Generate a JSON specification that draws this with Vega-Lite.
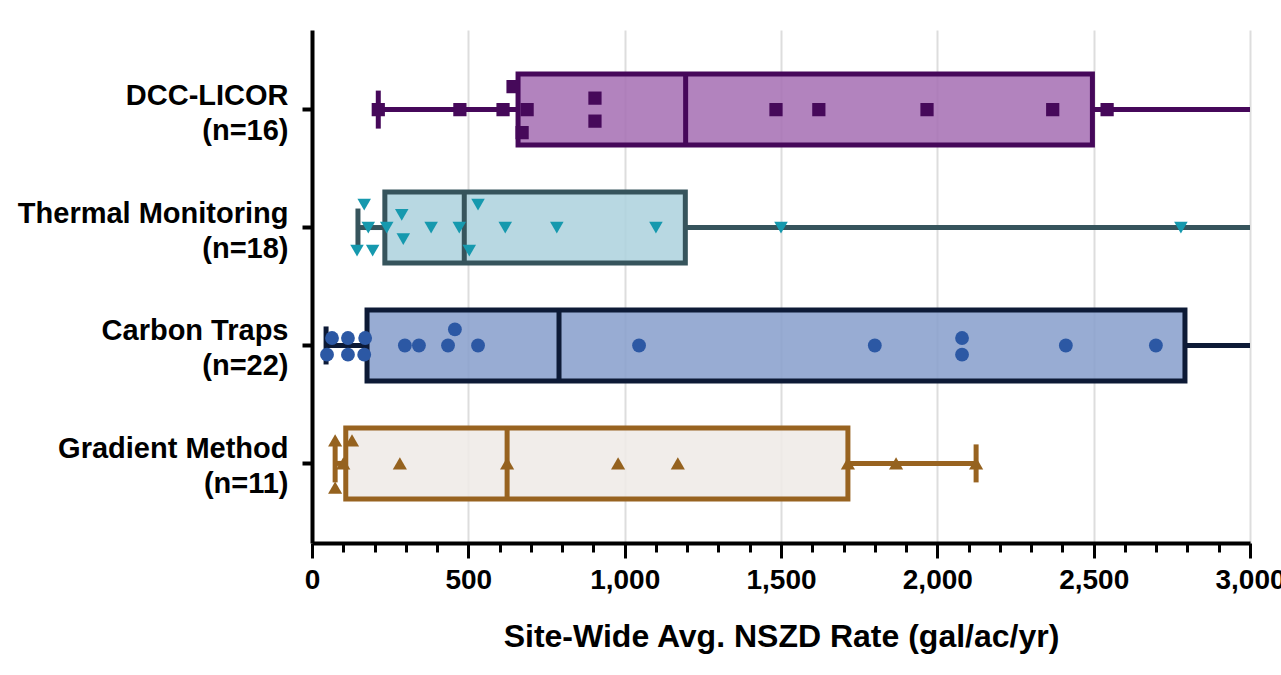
{
  "$schema": "https://vega.github.io/schema/vega-lite/v6.json",
  "width": 938,
  "height": 513,
  "autosize": {"type": "none"},
  "padding": {"left": 312, "top": 30, "right": 31, "bottom": 132},
  "background": "white",
  "config": {
    "view": {"stroke": null},
    "font": "Liberation Sans"
  },
  "datasets": {
    "boxes": [
      {"group": "DCC-LICOR\u00a0|(n=16)", "min": 212, "q1": 659, "median": 1195, "q3": 2496, "max": 3000, "capMax": false},
      {"group": "Thermal Monitoring|(n=18)", "min": 147, "q1": 233, "median": 487, "q3": 1194, "max": 3000, "capMax": false},
      {"group": "Carbon Traps|(n=22)", "min": 45, "q1": 176, "median": 790, "q3": 2792, "max": 3000, "capMax": false},
      {"group": "Gradient Method|(n=11)", "min": 74, "q1": 108, "median": 624, "q3": 1714, "max": 2124, "capMax": true}
    ],
    "points": [
      {"group": "DCC-LICOR\u00a0|(n=16)", "value": 212, "lane": 0},
      {"group": "DCC-LICOR\u00a0|(n=16)", "value": 473, "lane": 0},
      {"group": "DCC-LICOR\u00a0|(n=16)", "value": 611, "lane": 0},
      {"group": "DCC-LICOR\u00a0|(n=16)", "value": 643, "lane": -2},
      {"group": "DCC-LICOR\u00a0|(n=16)", "value": 672, "lane": 2},
      {"group": "DCC-LICOR\u00a0|(n=16)", "value": 688, "lane": 0},
      {"group": "DCC-LICOR\u00a0|(n=16)", "value": 905, "lane": -1},
      {"group": "DCC-LICOR\u00a0|(n=16)", "value": 905, "lane": 1},
      {"group": "DCC-LICOR\u00a0|(n=16)", "value": 1484, "lane": 0},
      {"group": "DCC-LICOR\u00a0|(n=16)", "value": 1621, "lane": 0},
      {"group": "DCC-LICOR\u00a0|(n=16)", "value": 1967, "lane": 0},
      {"group": "DCC-LICOR\u00a0|(n=16)", "value": 2369, "lane": 0},
      {"group": "DCC-LICOR\u00a0|(n=16)", "value": 2543, "lane": 0},
      {"group": "Thermal Monitoring|(n=18)", "value": 167, "lane": -2},
      {"group": "Thermal Monitoring|(n=18)", "value": 180, "lane": 0},
      {"group": "Thermal Monitoring|(n=18)", "value": 239, "lane": 0},
      {"group": "Thermal Monitoring|(n=18)", "value": 287, "lane": -1.1},
      {"group": "Thermal Monitoring|(n=18)", "value": 292, "lane": 1},
      {"group": "Thermal Monitoring|(n=18)", "value": 381, "lane": 0},
      {"group": "Thermal Monitoring|(n=18)", "value": 471, "lane": 0},
      {"group": "Thermal Monitoring|(n=18)", "value": 531, "lane": -2},
      {"group": "Thermal Monitoring|(n=18)", "value": 503, "lane": 2},
      {"group": "Thermal Monitoring|(n=18)", "value": 618, "lane": 0},
      {"group": "Thermal Monitoring|(n=18)", "value": 783, "lane": 0},
      {"group": "Thermal Monitoring|(n=18)", "value": 1100, "lane": 0},
      {"group": "Thermal Monitoring|(n=18)", "value": 144, "lane": 2},
      {"group": "Thermal Monitoring|(n=18)", "value": 194, "lane": 2},
      {"group": "Thermal Monitoring|(n=18)", "value": 1500, "lane": 0},
      {"group": "Thermal Monitoring|(n=18)", "value": 2779, "lane": 0},
      {"group": "Carbon Traps|(n=22)", "value": 64, "lane": -0.65},
      {"group": "Carbon Traps|(n=22)", "value": 48, "lane": 0.8},
      {"group": "Carbon Traps|(n=22)", "value": 115, "lane": -0.65},
      {"group": "Carbon Traps|(n=22)", "value": 115, "lane": 0.8},
      {"group": "Carbon Traps|(n=22)", "value": 170, "lane": -0.65},
      {"group": "Carbon Traps|(n=22)", "value": 167, "lane": 0.8},
      {"group": "Carbon Traps|(n=22)", "value": 297, "lane": 0},
      {"group": "Carbon Traps|(n=22)", "value": 342, "lane": 0},
      {"group": "Carbon Traps|(n=22)", "value": 435, "lane": 0},
      {"group": "Carbon Traps|(n=22)", "value": 457, "lane": -1.4},
      {"group": "Carbon Traps|(n=22)", "value": 531, "lane": 0},
      {"group": "Carbon Traps|(n=22)", "value": 1046, "lane": 0},
      {"group": "Carbon Traps|(n=22)", "value": 1800, "lane": 0},
      {"group": "Carbon Traps|(n=22)", "value": 2079, "lane": -0.65},
      {"group": "Carbon Traps|(n=22)", "value": 2079, "lane": 0.8},
      {"group": "Carbon Traps|(n=22)", "value": 2411, "lane": 0},
      {"group": "Carbon Traps|(n=22)", "value": 2699, "lane": 0},
      {"group": "Gradient Method|(n=11)", "value": 74, "lane": -2},
      {"group": "Gradient Method|(n=11)", "value": 74, "lane": 2.1},
      {"group": "Gradient Method|(n=11)", "value": 128, "lane": -2},
      {"group": "Gradient Method|(n=11)", "value": 100, "lane": 0},
      {"group": "Gradient Method|(n=11)", "value": 281, "lane": 0},
      {"group": "Gradient Method|(n=11)", "value": 624, "lane": 0},
      {"group": "Gradient Method|(n=11)", "value": 979, "lane": 0},
      {"group": "Gradient Method|(n=11)", "value": 1170, "lane": 0},
      {"group": "Gradient Method|(n=11)", "value": 1714, "lane": 0},
      {"group": "Gradient Method|(n=11)", "value": 1868, "lane": 0},
      {"group": "Gradient Method|(n=11)", "value": 2124, "lane": 0}
    ]
  },
  "encoding": {
    "y": {
      "field": "group",
      "type": "nominal",
      "sort": null,
      "scale": {
        "type": "band",
        "domain": ["DCC-LICOR\u00a0|(n=16)", "Thermal Monitoring|(n=18)", "Carbon Traps|(n=22)", "Gradient Method|(n=11)"],
        "paddingInner": 0.39,
        "paddingOuter": 0.37
      },
      "axis": {
        "title": null,
        "labelExpr": "split(datum.label, '|')",
        "labelFont": "Liberation Sans",
        "labelFontSize": 29,
        "labelFontWeight": "bold",
        "labelColor": "black",
        "labelLineHeight": 35,
        "labelPadding": 14,
        "labelOffset": -14,
        "labelLimit": 400,
        "domainColor": "black",
        "domainWidth": 4,
        "tickColor": "black",
        "tickWidth": 4,
        "tickSize": 10,
        "grid": false
      }
    }
  },
  "layer": [
    {
      "data": {"name": "boxes"},
      "mark": {"type": "rule", "strokeWidth": 5, "clip": true},
      "encoding": {
        "x": {
          "field": "min",
          "type": "quantitative",
          "scale": {"domain": [0, 3000], "nice": false, "zero": true},
          "axis": {
            "orient": "bottom",
            "title": "Site-Wide Avg. NSZD Rate (gal/ac/yr)",
            "titleFont": "Liberation Sans",
            "titleFontSize": 32,
            "titleFontWeight": "bold",
            "titleColor": "black",
            "titlePadding": 27,
            "tickCount": 40,
            "values": [0, 100, 200, 300, 400, 500, 600, 700, 800, 900, 1000, 1100, 1200, 1300, 1400, 1500, 1600, 1700, 1800, 1900, 2000, 2100, 2200, 2300, 2400, 2500, 2600, 2700, 2800, 2900, 3000],
            "labelExpr": "datum.value % 500 === 0 ? format(datum.value, ',d') : ''",
            "labelOverlap": false,
            "labelFlush": false,
            "labelFont": "Liberation Sans",
            "labelFontSize": 28,
            "labelFontWeight": "bold",
            "labelColor": "black",
            "labelPadding": 8,
            "domainColor": "black",
            "domainWidth": 4,
            "tickColor": "black",
            "tickWidth": 3,
            "tickSize": {"condition": {"test": "datum.value % 500 === 0", "value": 15}, "value": 9},
            "grid": true,
            "gridColor": "#dddddd",
            "gridWidth": 2,
            "gridOpacity": {"condition": {"test": "datum.value % 500 === 0 && datum.value > 0", "value": 1}, "value": 0}
          }
        },
        "x2": {"field": "q1"},
        "color": {
          "field": "group", "type": "nominal", "legend": null,
          "scale": {"domain": ["DCC-LICOR\u00a0|(n=16)", "Thermal Monitoring|(n=18)", "Carbon Traps|(n=22)", "Gradient Method|(n=11)"], "range": ["#46085a", "#36545c", "#0d1a36", "#986320"]}
        }
      }
    },
    {
      "data": {"name": "boxes"},
      "mark": {"type": "rule", "strokeWidth": 5, "clip": true},
      "encoding": {
        "x": {"field": "q3", "type": "quantitative"},
        "x2": {"field": "max"},
        "color": {
          "field": "group", "type": "nominal", "legend": null,
          "scale": {"domain": ["DCC-LICOR\u00a0|(n=16)", "Thermal Monitoring|(n=18)", "Carbon Traps|(n=22)", "Gradient Method|(n=11)"], "range": ["#46085a", "#36545c", "#0d1a36", "#986320"]}
        }
      }
    },
    {
      "data": {"name": "boxes"},
      "mark": {"type": "tick", "thickness": 5, "size": 38, "orient": "vertical", "opacity": 1},
      "encoding": {
        "x": {"field": "min", "type": "quantitative"},
        "color": {
          "field": "group", "type": "nominal", "legend": null,
          "scale": {"domain": ["DCC-LICOR\u00a0|(n=16)", "Thermal Monitoring|(n=18)", "Carbon Traps|(n=22)", "Gradient Method|(n=11)"], "range": ["#46085a", "#36545c", "#0d1a36", "#986320"]}
        }
      }
    },
    {
      "data": {"name": "boxes"},
      "transform": [{"filter": "datum.capMax"}],
      "mark": {"type": "tick", "thickness": 5, "size": 38, "orient": "vertical", "opacity": 1},
      "encoding": {
        "x": {"field": "max", "type": "quantitative"},
        "color": {
          "field": "group", "type": "nominal", "legend": null,
          "scale": {"domain": ["DCC-LICOR\u00a0|(n=16)", "Thermal Monitoring|(n=18)", "Carbon Traps|(n=22)", "Gradient Method|(n=11)"], "range": ["#46085a", "#36545c", "#0d1a36", "#986320"]}
        }
      }
    },
    {
      "data": {"name": "boxes"},
      "mark": {"type": "bar", "strokeWidth": 5, "fillOpacity": 0.88, "strokeJoin": "miter", "size": 71},
      "encoding": {
        "x": {"field": "q1", "type": "quantitative"},
        "x2": {"field": "q3"},
        "color": {
          "field": "group", "type": "nominal", "legend": null,
          "scale": {"domain": ["DCC-LICOR\u00a0|(n=16)", "Thermal Monitoring|(n=18)", "Carbon Traps|(n=22)", "Gradient Method|(n=11)"], "range": ["#a772b5", "#aed3de", "#8aa1cd", "#efebe7"]}
        },
        "stroke": {
          "field": "group", "type": "nominal", "legend": null,
          "scale": {"domain": ["DCC-LICOR\u00a0|(n=16)", "Thermal Monitoring|(n=18)", "Carbon Traps|(n=22)", "Gradient Method|(n=11)"], "range": ["#46085a", "#36545c", "#0d1a36", "#986320"]}
        }
      }
    },
    {
      "data": {"name": "boxes"},
      "mark": {"type": "tick", "thickness": 5, "size": 71, "orient": "vertical", "opacity": 1},
      "encoding": {
        "x": {"field": "median", "type": "quantitative"},
        "color": {
          "field": "group", "type": "nominal", "legend": null,
          "scale": {"domain": ["DCC-LICOR\u00a0|(n=16)", "Thermal Monitoring|(n=18)", "Carbon Traps|(n=22)", "Gradient Method|(n=11)"], "range": ["#46085a", "#36545c", "#0d1a36", "#986320"]}
        }
      }
    },
    {
      "data": {"name": "points"},
      "mark": {"type": "point", "filled": true, "opacity": 1, "clip": true},
      "encoding": {
        "x": {"field": "value", "type": "quantitative"},
        "yOffset": {"field": "lane", "type": "quantitative", "scale": {"domain": [-2, 2], "range": [13, 59]}},
        "color": {
          "field": "group", "type": "nominal", "legend": null,
          "scale": {"domain": ["DCC-LICOR\u00a0|(n=16)", "Thermal Monitoring|(n=18)", "Carbon Traps|(n=22)", "Gradient Method|(n=11)"], "range": ["#46095a", "#1699ae", "#2c58a4", "#95621f"]}
        },
        "shape": {
          "field": "group", "type": "nominal", "legend": null,
          "scale": {"domain": ["DCC-LICOR\u00a0|(n=16)", "Thermal Monitoring|(n=18)", "Carbon Traps|(n=22)", "Gradient Method|(n=11)"], "range": ["square", "triangle-down", "circle", "triangle-up"]}
        },
        "size": {
          "field": "group", "type": "nominal", "legend": null,
          "scale": {"domain": ["DCC-LICOR\u00a0|(n=16)", "Thermal Monitoring|(n=18)", "Carbon Traps|(n=22)", "Gradient Method|(n=11)"], "range": [175, 200, 190, 200]}
        }
      }
    }
  ],
  "resolve": {"scale": {"color": "independent", "stroke": "independent"}}
}
